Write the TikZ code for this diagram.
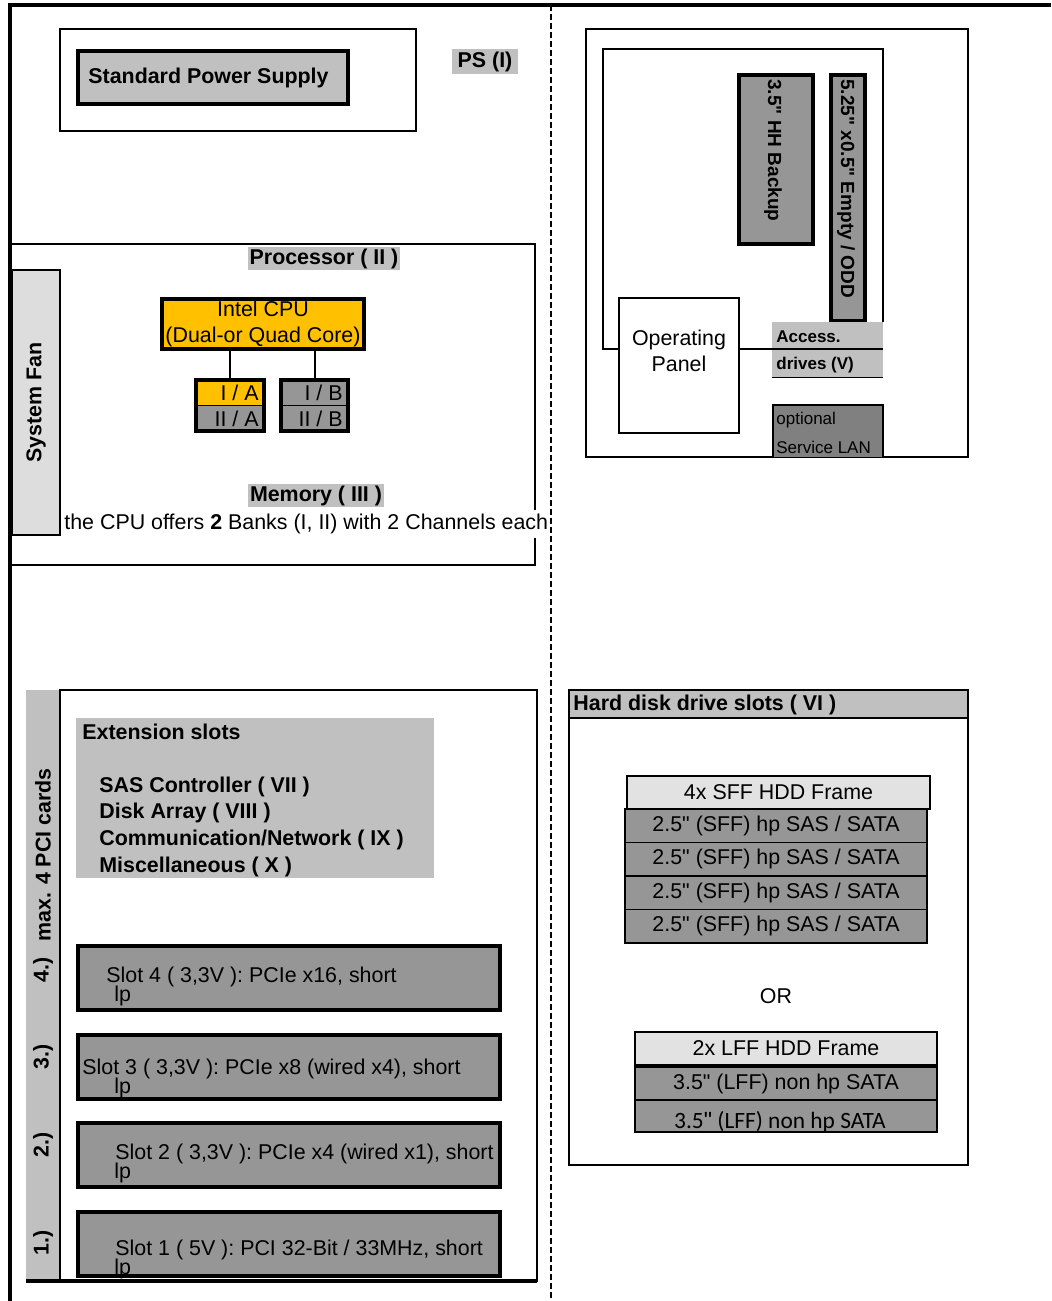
\documentclass[tikz,border=0pt]{standalone}
\usepackage{fontspec}
\setmainfont{Liberation Sans}
\newfontfamily\plainfont{Liberation Sans}
\newfontfamily\carlitofont{Carlito}
\usetikzlibrary{fit, positioning}
\definecolor{hpgray}{HTML}{C0C0C0}
\definecolor{hpdark}{HTML}{969696}
\definecolor{hplight}{HTML}{DDDDDD}
\definecolor{hpframe}{HTML}{E2E2E2}
\definecolor{hplan}{HTML}{808080}
\definecolor{hpcpu}{HTML}{FFC000}
\newcommand{\hpfont}{\fontsize{10.7}{12.8}\selectfont}
\newcommand{\hpbay}{\fontsize{9.5}{11}\selectfont}
\newcommand{\hpsmall}{\fontsize{8.5}{10}\selectfont}
\newcommand{\inch}{{\plainfont\symbol{34}}}
\tikzset{
  area/.style={draw, line width=0.8pt, inner sep=0pt},
  tag/.style={fill=hpgray, inner sep=0pt},
  thickbox/.style={draw, line width=2pt, inner sep=0pt},
  slotbox/.style={thickbox, fill=hpdark},
  cell/.style={fill=#1, inner sep=0pt},
  drivebox/.style={draw, line width=0.6pt, fill=hpdark, inner sep=0pt},
  hddframe/.style={draw, line width=0.6pt, fill=hpframe, inner sep=0pt},
  txt/.style={inner sep=0pt, font=\hpfont},
  boldtxt/.style={inner sep=0pt, font=\hpfont\bfseries},
  frameline/.style={line width=2pt},
}

\begin{document}
\begin{tikzpicture}[x=0.5pt, y=-0.5pt]
  \useasboundingbox (0,0) rectangle (1051,1301);
  % housing
  \draw[frameline] (10,1301) -- (10,5) -- (1051,5);

  % power supply
  \node[area, fit={(60,29) (416,131)}] (psarea) {};
  \node[thickbox, fill=hpgray, fit={(78,51) (348,104)}] (psu) {};
  \node[boldtxt, anchor=west] (psutext) at (88,78) {Standard Power Supply};
  \node[tag, fit={(452,49) (518,74)}] (pslabel) {};
  \node[boldtxt] (pslabeltext) at (pslabel) {PS (I)};

  % processor, memory
  \node[area, fit={(10,244) (535,565)}] (procarea) {};
  \node[tag, fit={(248,247) (400,270)}] (proclabel) {};
  \node[boldtxt] (proclabeltext) at (proclabel) {Processor ( II )};
  \node[area, fill=hplight, fit={(12,270) (60,535)}] (fan) {};
  \node[boldtxt, rotate=90] (fantext) at (fan.center) {System Fan};
  \node[thickbox, fill=hpcpu, fit={(162,299) (364,349)}] (cpu) {};
  \node[txt, align=center] (cputext) at (cpu) {Intel CPU\\(Dual-or Quad Core)};
  \node[thickbox, fill=black, fit={(196,380) (264,431)}] (mema) {};
  \node[cell=hpcpu, fit={(198,382) (262,405)}] (memia) {};
  \node[cell=hpdark, fit={(198,406) (262,429)}] (memiia) {};
  \node[txt, anchor=east] (memiatext) at (259,393) {I / A};
  \node[txt, anchor=east] (memiiatext) at (259,419) {II / A};
  \node[thickbox, fill=black, fit={(281,380) (348,431)}] (memb) {};
  \node[cell=hpdark, fit={(283,382) (346,405)}] (memib) {};
  \node[cell=hpdark, fit={(283,406) (346,429)}] (memiib) {};
  \node[txt, anchor=east] (memibtext) at (343,393) {I / B};
  \node[txt, anchor=east] (memiibtext) at (343,419) {II / B};
  \draw[line width=1pt] (cpu.south -| mema.north) -- (mema.north);
  \draw[line width=1pt] (cpu.south -| memb.north) -- (memb.north);
  \node[tag, fit={(248,484) (384,507)}] (memlabel) {};
  \node[boldtxt] (memlabeltext) at (memlabel) {Memory ( III )};
  \node[txt, fill=white, inner ysep=2pt, anchor=west] (memtext) at (64,524)
    {the CPU offers \textbf{2} Banks (I, II) with 2 Channels each};

  % drive bays
  \node[area, fit={(586,29) (968,457)}] (bayarea) {};
  \node[thickbox, fill=hpdark, fit={(739,75) (813,244)}] (hhbay) {};
  \node[boldtxt, font=\hpbay\bfseries, rotate=-90, anchor=west] (hhtext) at (773,79) {3.5\inch{} HH Backup};
  \node[thickbox, fill=hpdark, fit={(831,75) (865,321)}] (oddbay) {};
  \node[boldtxt, font=\hpbay\bfseries, rotate=-90, anchor=west] (oddtext) at (846,79) {5.25\inch{} x0.5\inch{} Empty / ODD};
  \node[tag, fit={(772,322) (883,349)}] (access) {};
  \node[boldtxt, font=\hpsmall\bfseries, anchor=west] (accesstext) at (776,337) {Access.};
  \node[tag, fit={(772,350) (883,377)}] (drives) {};
  \node[boldtxt, font=\hpsmall\bfseries, anchor=west] (drivestext) at (776,365) {drives (V)};
  \draw[line width=0.8pt] (drives.south west) -- (drives.south east);
  \draw[line width=0.8pt] (883,322) -- (883,49) -- (603,49) -- (603,349) -- (883,349);
  \node[area, fill=white, fit={(619,298) (739,433)}] (panel) {};
  \node[txt, align=center] (paneltext) at (679,351) {Operating\\Panel};
  \node[fill=hplan, inner sep=0pt, fit={(773,405) (883,457)}] (lan) {};
  \draw[line width=1pt] (lan.south west) -- (lan.north west) -- (lan.north east) -- (lan.south east);
  \node[txt, font=\hpsmall, anchor=west] (lantext) at (776,420) {optional};
  \node[txt, font=\hpsmall, anchor=west] (lantextb) at (776,447) {Service LAN};

  % extension slots
  \node[fill=hpgray, inner sep=0pt, fit={(26,690) (60,1281)}] (pcistrip) {};
  \node[area, fit={(60,690) (537,1281)}] (extarea) {};
  \node[boldtxt, rotate=90] (pcitext) at (43,855) {max. 4 PCI cards};
  \node[tag, fit={(76,718) (434,878)}] (extlabel) {};
  \node[boldtxt, anchor=west] (exthead) at (82,732) {Extension slots};
  \foreach \name [count=\i] in {SAS Controller ( VII ), Disk Array ( VIII ),
      Communication/Network ( IX ), Miscellaneous ( X )}
    \node[boldtxt, anchor=west] (ext\i) at (99,{760+26.7*\i}) {\name};
  \foreach \i/\ytop/\ytext/\xtext/\ynum/\slotname in {
      4/944/977/106/970/{Slot 4 ( 3,3V ): PCIe x16, short},
      3/1033/1069/82/1057/{Slot 3 ( 3,3V ): PCIe x8 (wired x4), short},
      2/1121/1154/115/1145/{Slot 2 ( 3,3V ): PCIe x4 (wired x1), short},
      1/1210/1250/115/1243/{Slot 1 ( 5V ): PCI 32-Bit / 33MHz, short}} {
    \node[slotbox, fit={(78,{\ytop+2}) (500,{\ytop+66})}] (slot\i) {};
    \node[txt, anchor=west] (slottext\i) at (\xtext,\ytext) {\slotname};
    \node[txt, anchor=west] (lp\i) at (114,{\ytext+19}) {lp};
    \node[boldtxt, rotate=90] (slotnum\i) at (43,\ynum) {\i.)};
  }
  \draw[frameline] (26,1281) -- (537,1281);

  % hard disk drives
  \node[area, fit={(569,690) (968,1165)}] (hddarea) {};
  \node[area, fill=hpgray, fit={(569,690) (968,718)}] (hddhead) {};
  \node[boldtxt, anchor=west] (hddtext) at (573,705) {Hard disk drive slots ( VI )};
  \node[hddframe, fit={(627,776) (930,809)}] (sffframe) {};
  \node[txt] (sffframetext) at (sffframe) {4x SFF HDD Frame};
  \foreach \i in {1,...,4} {
    \node[drivebox, fit={(625,{809+33.5*(\i-1)}) (927,{809+33.5*\i})}] (sff\i) {};
    \node[txt] (sfftext\i) at (sff\i) {2.5\inch{} (SFF) hp SAS / SATA};
  }
  \node[txt] (ortext) at (776,996) {OR};
  \node[hddframe, fit={(635,1032) (937,1065)}] (lffframe) {};
  \node[txt] (lffframetext) at (lffframe) {2x LFF HDD Frame};
  \node[drivebox, fit={(635,1067) (937,1100)}] (lffa) {};
  \node[txt] (lffatext) at (lffa) {3.5\inch{} (LFF) non hp SATA};
  \node[drivebox, fit={(635,1100) (937,1132)}] (lffb) {};
  \node[inner sep=0pt, font=\carlitofont\fontsize{11.7}{14}\selectfont] (lffbtext) at (780,1122)
    {3.5\inch{} (LFF) non hp SATA};

  \draw[dash pattern=on 3pt off 1.5pt, line width=0.8pt] (551,5) -- (551,1301);
\end{tikzpicture}
\end{document}
